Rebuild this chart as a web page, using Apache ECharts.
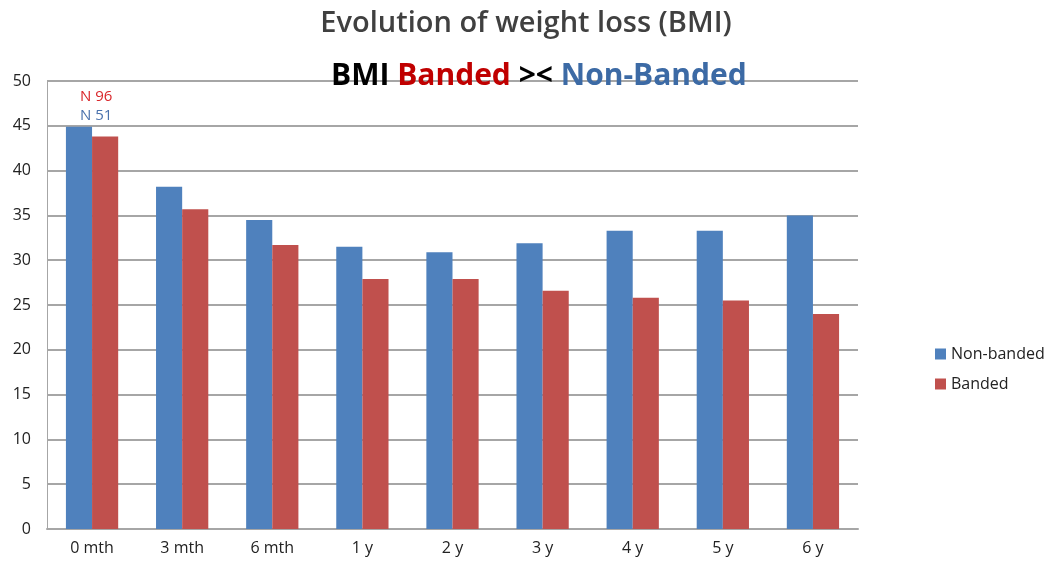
<!DOCTYPE html>
<html>
<head>
<meta charset="utf-8">
<script src="https://cdn.jsdelivr.net/npm/echarts@6/dist/echarts.min.js"></script>
<style>
	html, body { margin: 0; padding: 0; background: #fff; }
	#chart { width: 1052px; height: 561px; }
</style>
</head>
<body>
<div id="chart"></div>
<script>
	// periods after surgery
	var periods = ['0 mth', '3 mth', '6 mth', '1 y', '2 y', '3 y', '4 y', '5 y', '6 y']
	var nonBanded = [44.9, 38.2, 34.5, 31.5, 30.9, 31.9, 33.3, 33.3, 35.0]
	var banded = [43.8, 35.7, 31.7, 27.9, 27.9, 26.6, 25.8, 25.5, 24.0]
	var yTicks = [0, 50, 5]

	var fontFam = '"Open Sans", "Liberation Sans", sans-serif'

	var myChart = echarts.init(document.getElementById('chart'))
	var option = {
		animation: false,
		textStyle: { fontFamily: fontFam },
		title: [{
			text: 'Evolution of weight loss (BMI)',
			left: 'center',
			top: 4,
			textStyle: { fontSize: 29, fontWeight: 600, color: '#404040', fontFamily: fontFam }
		}, {
			text: '{k|BMI }{r|Banded}{k| >< }{b|Non-Banded}',
			left: 326,
			top: 56,
			textStyle: {
				fontWeight: 'bold',
				fontSize: 30,
				rich: {
					k: { fontSize: 30, fontWeight: 'bold', color: '#000', fontFamily: fontFam },
					r: { fontSize: 30, fontWeight: 'bold', color: '#c00000', fontFamily: fontFam },
					b: { fontSize: 30, fontWeight: 'bold', color: '#3c6aa5', fontFamily: fontFam }
				}
			}
		}],
		graphic: [{
			type: 'text', left: 80, top: 89,
			style: { text: 'N 96', fill: '#d9262a', fontSize: 15, fontFamily: fontFam }
		}, {
			type: 'text', left: 80, top: 108,
			style: { text: 'N 51', fill: '#4a72ad', fontSize: 15, fontFamily: fontFam }
		}],
		legend: {
			orient: 'vertical',
			left: 930,
			top: 341,
			itemWidth: 11,
			itemHeight: 11,
			itemGap: 14,
			icon: 'rect',
			textStyle: { fontSize: 16, color: '#222', fontFamily: fontFam },
			data: ['Non-banded', 'Banded']
		},
		grid: { left: 47, right: 194, top: 81, bottom: 32 },
		xAxis: {
			type: 'category',
			data: periods,
			axisTick: { show: false },
			axisLine: { lineStyle: { color: '#a6a6a6', width: 2 } },
			axisLabel: { fontSize: 16, color: '#222', margin: 11 }
		},
		yAxis: {
			type: 'value',
			min: yTicks[0],
			max: yTicks[1],
			interval: yTicks[2],
			axisLine: { show: true, lineStyle: { color: '#a6a6a6', width: 1 } },
			axisTick: { show: false },
			splitLine: { lineStyle: { color: '#a6a6a6', width: 2 } },
			axisLabel: { fontSize: 16, color: '#222', margin: 16 }
		},
		series: [{
			name: 'Non-banded',
			type: 'bar',
			data: nonBanded,
			barGap: 0,
			barCategoryGap: '42%',
			itemStyle: { color: '#4f81bd' }
		}, {
			name: 'Banded',
			type: 'bar',
			data: banded,
			itemStyle: { color: '#c0504d' }
		}]
	}
	myChart.setOption(option)
</script>
</body>
</html>
